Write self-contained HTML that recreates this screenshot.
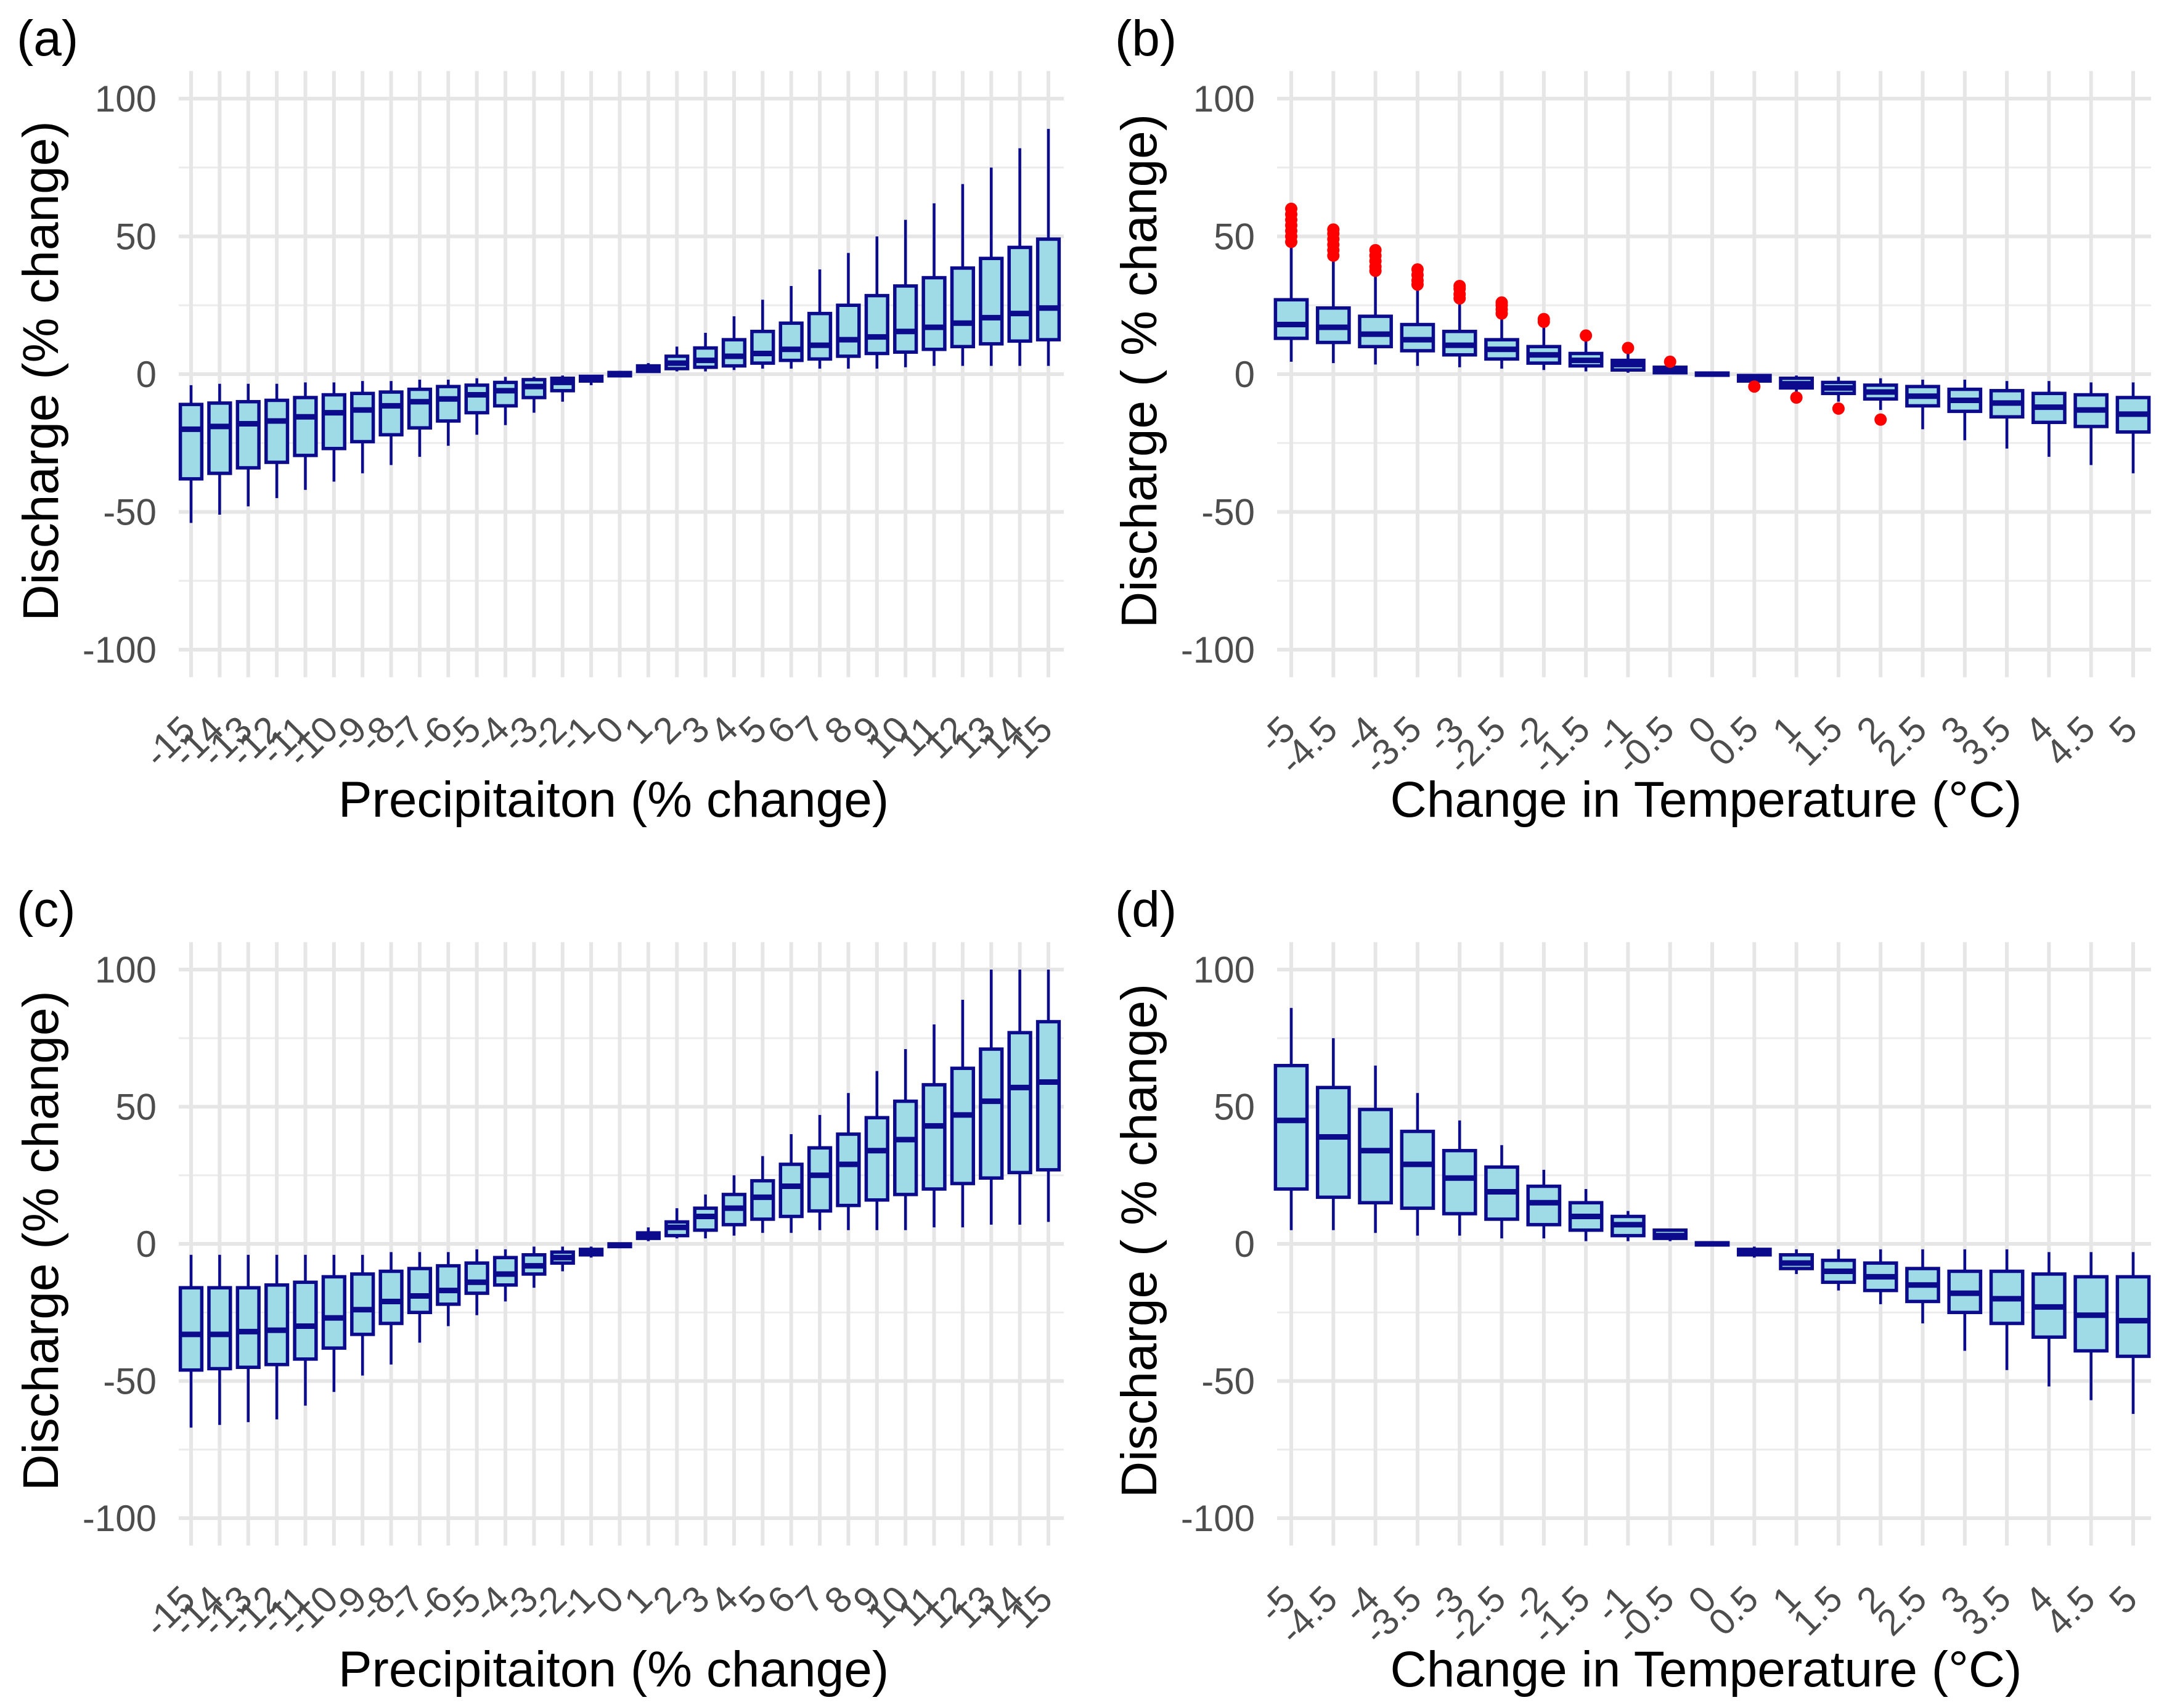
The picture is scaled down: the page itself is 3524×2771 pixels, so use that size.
<!DOCTYPE html>
<html><head><meta charset="utf-8"><style>
html,body{margin:0;padding:0;background:#fff}
svg{display:block}
text{font-family:"Liberation Sans",Arial,sans-serif}
</style></head><body>
<svg id="fig" width="3524" height="2771" viewBox="0 0 3524 2771" xmlns="http://www.w3.org/2000/svg"></svg>
<script>
// ---------- data ----------
const precipCats = [-15,-14,-13,-12,-11,-10,-9,-8,-7,-6,-5,-4,-3,-2,-1,0,1,2,3,4,5,6,7,8,9,10,11,12,13,14,15];
const tempCats = [-5,-4.5,-4,-3.5,-3,-2.5,-2,-1.5,-1,-0.5,0,0.5,1,1.5,2,2.5,3,3.5,4,4.5,5];
const yTicks = [100,50,0,-50,-100];
const yMinor = [75,25,-25,-75];
// panel a: [low, q1, median, q3, high]
const aLow = [-54,-51,-48,-45,-42,-39,-36,-33,-30,-26,-22,-18.5,-14,-10,-4,-0.8,0.5,1,1,1.5,2,2,2,2,2,2.5,3,3,3,3,3];
const aQ1  = [-38,-36,-34,-32,-29.5,-27,-24.5,-22,-19.5,-17,-14,-11.5,-8.5,-6,-2.5,-0.6,1,2,2.5,3,4,5,5.5,6.5,7.5,8,9,10,11,12,12.5];
const aMed = [-20,-19,-18,-17,-15.5,-14,-13,-11.5,-10,-9,-7.5,-6,-4.5,-3,-1.5,0,2,4,5,6.5,7.5,9,10.5,12.5,13.5,15.5,17,18.5,20.5,22,24];
const aQ3  = [-11,-10.5,-10,-9.5,-8.5,-7.5,-7,-6.5,-5.5,-4.5,-4,-3,-2,-1.5,-0.8,0.6,3,6.5,9.5,12.5,15.5,18.5,22,25,28.5,32,35,38.5,42,46,49];
const aHigh= [-4,-3.5,-3.5,-3.5,-3,-3,-2.5,-2.5,-2,-2,-1.5,-1,-1,-0.5,-0.3,0.8,4,10,15,21,27,32,38,44,50,56,62,69,75,82,89];
// panel b
const bLow = [4.5,4,3.5,3,2.5,2,1.5,1,0.5,0.2,-0.4,-4,-7,-10,-13,-20,-24,-27,-30,-33,-36];
const bQ1  = [13,11.5,10,8.5,7,5.5,4,3,1.5,0.5,-0.4,-2.5,-5,-7,-9,-11.5,-13.5,-15.5,-17.5,-19,-21];
const bMed = [18,17,14.5,12.5,10.5,9,7,5,3.5,1.5,0,-1.5,-3.5,-5,-6.5,-8,-9.5,-10.5,-12,-13,-14.5];
const bQ3  = [27,24,21,18,15.5,12.5,10,7.5,5,2.5,0.4,-0.5,-1.5,-3,-4,-4.5,-5.5,-6,-7,-7.5,-8.5];
const bHigh= [47,42,36.5,32,27,21,17,13,8,4,0.4,0,-0.5,-1,-1.5,-2,-2,-2.5,-2.5,-3,-3];
const bOut = [[48,50,52,54,56,58,60],[43,45,47,49,51,52.5],[37.5,39,41,43,45],[32.5,34,36,38],[27.5,29,31,32],[22,23.5,25,26],[19,20],[14],[9.5],[4.5],[],[-4.5],[-8.5],[-12.5],[-16.5],[],[],[],[],[],[]];
// panel c
const cLow = [-67,-66,-65,-64,-59,-54,-48,-44,-36,-30,-26,-21,-16,-10,-5,-1,1,2,2,3,4,4,5,5,5,5,6,6,7,7,8];
const cQ1  = [-46,-45.5,-45,-44,-42,-38,-33,-29,-25,-22,-18,-15,-11,-7,-4,-1,2,3,5,7,9,10,12,14,16,18,20,22,24,26,27];
const cMed = [-33,-33,-32,-31.5,-30,-27,-24,-21,-19,-17,-14,-11,-8,-5,-3,-0.5,3,6,10,13,17,21,25,29,34,38,43,47,52,57,59];
const cQ3  = [-16,-16,-16,-15,-14,-12,-11,-10,-9,-8,-7,-5,-4,-3,-2,0,4,8,13,18,23,29,35,40,46,52,58,64,71,77,81];
const cHigh= [-4,-4,-4,-4,-4,-4,-4,-3,-3,-3,-2,-2,-1,-1,-1,0,6,13,18,25,32,40,47,55,63,71,80,89,100,100,100];
// panel d
const dLow = [5,5,4,3,3,2,2,1,1,1,-0.4,-5,-11,-17,-22,-29,-39,-46,-52,-57,-62];
const dQ1  = [20,17,15,13,11,9,7,5,3,2,-0.4,-4,-9,-14,-17,-21,-25,-29,-34,-39,-41];
const dMed = [45,39,34,29,24,19,15,10,7,3,0,-3,-7,-10,-12,-15,-18,-20,-23,-26,-28];
const dQ3  = [65,57,49,41,34,28,21,15,10,5,0.4,-2,-4,-6,-7,-9,-10,-10,-11,-12,-12];
const dHigh= [86,75,65,55,45,36,27,20,12,5,0.4,-1,-2,-2,-2,-2,-2,-2,-3,-3,-3];

// ---------- drawing ----------
const NS = "http://www.w3.org/2000/svg";
const svg = document.getElementById('fig');
function mk(tag, attrs, parent){
  const e = document.createElementNS(NS, tag);
  for (const k in attrs) e.setAttribute(k, attrs[k]);
  (parent||svg).appendChild(e);
  return e;
}
const FILL = "#9edbe6", STROKE = "#0b0b8c";

function panel(id, letter, cats, low, q1, med, q3, high, outs, px, py, xTitle, yTitle){
  const g = mk('g', {});
  
  
  const n = cats.length;
  const xs = i => px.first + (px.last - px.first) * i / (n - 1);
  const unit = (py.zero - py.top) / 100;
  const y = v => py.zero - v * unit;
  const top = y(110), bot = y(-110);
  yMinor.forEach(v => {
    const l = mk('line', {x1:px.left, x2:px.right, y1:y(v), y2:y(v), stroke:"#ececec", 'stroke-width':3}, g);
    
    
  });
  yTicks.forEach(v => {
    const l = mk('line', {x1:px.left, x2:px.right, y1:y(v), y2:y(v), stroke:"#e6e6e6", 'stroke-width':6}, g);
    
    
    const t = mk('text', {x:px.left - 36, y:y(v)+21, 'text-anchor':'end', 'font-size':60, fill:'#4d4d4d'}, g);
    
    
    t.textContent = v;
  });
  cats.forEach((c, i) => {
    const l = mk('line', {x1:xs(i), x2:xs(i), y1:top, y2:bot, stroke:"#e6e6e6", 'stroke-width':6}, g);
    
    
  });
  const sp = (px.last - px.first) / (n - 1);
  const bw = sp * 0.75;
  cats.forEach((c, i) => {
    const x = xs(i);
    const bg = mk('g', {}, g);
    
    
    mk('line', {x1:x, x2:x, y1:y(high[i]), y2:y(q3[i]), stroke:STROKE, 'stroke-width':4.5}, bg);
    mk('line', {x1:x, x2:x, y1:y(q1[i]), y2:y(low[i]), stroke:STROKE, 'stroke-width':4.5}, bg);
    const h = Math.max(2, y(q1[i]) - y(q3[i]));
    mk('rect', {x:x-bw/2, y:y(q3[i]), width:bw, height:h, fill:FILL, stroke:STROKE, 'stroke-width':5.5}, bg);
    mk('line', {x1:x-bw/2, x2:x+bw/2, y1:y(med[i]), y2:y(med[i]), stroke:STROKE, 'stroke-width':9}, bg);
    if (outs) outs[i].forEach(v => {
      const d = mk('circle', {cx:x, cy:y(v), r:10, fill:'#ff0000'}, bg);
      
      
    });
    const tx = x + 10, ty = py.zero + 580;
    const t = mk('text', {x:0, y:0, 'text-anchor':'end', 'font-size':60, fill:'#4d4d4d', transform:`translate(${tx},${ty}) rotate(-45)`}, g);
    
    
    t.textContent = c;
  });
  const pl = mk('text', {x:px.left - 263, y:py.top - 70, 'font-size':82, fill:'#000'}, g);
  
  
  pl.textContent = '(' + letter + ')';
  const xt = mk('text', {x:(px.first + px.last)/2 - 10, y:py.zero + 718, 'text-anchor':'middle', 'font-size':82, fill:'#000'}, g);
  
  
  xt.textContent = xTitle;
  const yt = mk('text', {x:0, y:0, 'text-anchor':'middle', 'font-size':82, fill:'#000', transform:`translate(${px.left - 196},${py.zero - 5}) rotate(-90)`}, g);
  
  
  yt.textContent = yTitle;
}
const PA = {left:290, right:1726, first:310, last:1701};
const PB = {left:2072, right:3490, first:2095, last:3461};
const YT = {top:160, zero:607};
const YB = {top:1573, zero:2018};
panel('a','a',precipCats,aLow,aQ1,aMed,aQ3,aHigh,null,PA,YT,'Precipitaiton (% change)','Discharge (% change)');
panel('b','b',tempCats,bLow,bQ1,bMed,bQ3,bHigh,bOut,PB,YT,'Change in Temperature (°C)','Discharge ( % change)');
panel('c','c',precipCats,cLow,cQ1,cMed,cQ3,cHigh,null,PA,YB,'Precipitaiton (% change)','Discharge (% change)');
panel('d','d',tempCats,dLow,dQ1,dMed,dQ3,dHigh,null,PB,YB,'Change in Temperature (°C)','Discharge ( % change)');
</script>
</body></html>
